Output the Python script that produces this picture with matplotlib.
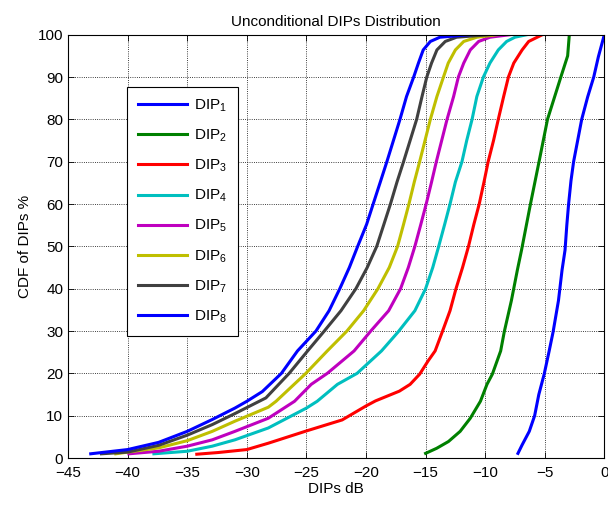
import matplotlib
matplotlib.use("Agg")
import matplotlib.pyplot as plt

plt.rcParams['font.family'] = ['Liberation Sans', 'DejaVu Sans']
plt.rcParams['mathtext.fontset'] = 'custom'
plt.rcParams['mathtext.rm'] = 'Liberation Sans'
plt.rcParams['mathtext.it'] = 'Liberation Sans'

# CDF curves: x in dB, y in %
dip1_x = [-7.25, -6.9, -6.3, -5.85, -5.5, -5.05, -4.63, -4.3, -3.85, -3.55, -3.3, -3.15, -3.0,
          -2.8, -2.58, -2.24, -1.9, -1.4, -0.89, -0.5, 0.0]
dip1_y = [1.1, 3.1, 6.3, 10, 15, 19.8, 25.3, 29.8, 37.2, 44.4, 49.1, 55, 60,
          65.5, 70, 75, 80, 85.3, 90, 94.8, 100]

dip2_x = [-15.0, -14.07, -13.08, -12.1, -11.25, -10.4, -9.85, -9.4, -8.7, -8.4, -7.8, -7.3,
          -6.95, -6.2, -5.48, -4.77, -3.65, -3.08, -2.94]
dip2_y = [1.1, 2.3, 3.9, 6.3, 9.4, 13.4, 17.4, 19.8, 25.3, 29.8, 37.2, 44.4,
          49.1, 60, 70, 80, 90, 95, 100]

dip3_x = [-34.2, -32.4, -30, -28.2, -25, -22, -20, -19.2, -17.2, -16.3, -15.5, -14.8, -14.2,
          -13.6, -12.95, -12.45, -11.9, -11.4, -10.95, -10.5, -10.1, -9.75, -9.3, -8.9,
          -8.45, -8.05, -7.6, -6.9, -6.35, -5.2]
dip3_y = [0.9, 1.3, 2.0, 3.5, 6.4, 9, 12.3, 13.5, 15.8, 17.4, 19.8, 22.9, 25.3,
          29.8, 34.8, 40, 45, 50, 55.2, 60, 65.2, 70, 75, 80,
          85.4, 90, 93.3, 96.4, 98.4, 100]

dip4_x = [-37.8, -35, -32.9, -31, -28.2, -25, -24.1, -22.4, -20.75, -18.7, -17.3, -15.9, -15.0,
          -14.4, -13.9, -13.4, -12.95, -12.5, -11.95, -11.55, -11.1, -10.7, -10.15, -9.6,
          -8.9, -8.2, -7.5, -6.5]
dip4_y = [1.0, 1.6, 2.8, 4.3, 7.1, 11.8, 13.4, 17.4, 20, 25.3, 29.8, 34.8, 40,
          45, 50, 55.2, 60, 65.2, 70, 75, 80, 85.4, 90, 93.3,
          96.4, 98.4, 99.4, 100]

dip5_x = [-39.9, -37.4, -35, -32.9, -31, -28.2, -26.0, -24.6, -23.25, -21.0, -19.6, -18.1,
          -17.1, -16.45, -15.9, -15.4, -14.95, -14.5, -14.1, -13.65, -13.2, -12.65, -12.25,
          -11.8, -11.25, -10.55, -9.6, -7.9]
dip5_y = [1.0, 1.6, 2.8, 4.3, 6.3, 9.4, 13.4, 17.4, 20, 25.3, 30, 34.8,
          40, 45, 50, 55.2, 60, 65.2, 70, 75, 80, 85.4, 90,
          93.3, 96.4, 98.4, 99.4, 100]

dip6_x = [-41.0, -37.4, -35, -32.9, -31, -28.2, -27.55, -25.05, -23.25, -21.6, -20.2, -19.0,
          -18.05, -17.35, -16.85, -16.4, -15.95, -15.5, -15.05, -14.6, -14.05, -13.5, -13.1,
          -12.5, -11.8, -10.7, -9.0]
dip6_y = [1.0, 2.4, 4.1, 6.3, 8.7, 12.0, 13.4, 20, 25.3, 30, 34.8, 40,
          45, 50, 55.2, 60, 65.2, 70, 75, 80, 85.4, 90, 93.3,
          96.4, 98.4, 99.4, 100]

dip7_x = [-42.2, -40, -37.4, -35, -32.9, -31, -28.4, -26.45, -24.9, -23.5, -22.1, -20.85,
          -19.9, -19.1, -18.5, -17.95, -17.4, -16.85, -16.3, -15.75, -15.3, -14.9, -14.5,
          -14.05, -13.35, -12.4, -9.6]
dip7_y = [1.0, 1.4, 3.0, 5.4, 7.9, 10.5, 14.2, 20, 25.3, 30, 34.8, 40,
          45, 50, 55.2, 60, 65.2, 70, 75, 80, 85.4, 90, 93.3,
          96.4, 98.4, 99.4, 100]

dip8_x = [-43.1, -40, -37.4, -35, -32.9, -31, -30, -28.7, -27.1, -25.75, -24.2, -23.1, -22.2,
          -21.4, -20.7, -19.95, -19.4, -18.8, -18.25, -17.7, -17.15, -16.6, -16.0, -15.6,
          -15.2, -14.6, -13.8, -11.25]
dip8_y = [1.0, 2.0, 3.7, 6.3, 9.1, 11.8, 13.4, 15.7, 20, 25.3, 30, 34.8, 40,
          45, 50, 55.2, 60, 65.2, 70, 75, 80, 85.4, 90, 93.3,
          96.4, 98.4, 99.4, 100]

curves = [(dip1_x, dip1_y), (dip2_x, dip2_y), (dip3_x, dip3_y), (dip4_x, dip4_y),
          (dip5_x, dip5_y), (dip6_x, dip6_y), (dip7_x, dip7_y), (dip8_x, dip8_y)]
colors = [(0, 0, 1), (0, 0.5, 0), (1, 0, 0), (0, 0.75, 0.75),
          (0.75, 0, 0.75), (0.75, 0.75, 0), (0.25, 0.25, 0.25), (0, 0, 1)]
labels = [r'DIP$_{%d}$' % (i + 1) for i in range(8)]

fig = plt.figure(figsize=(6.08, 5.07), dpi=100)
ax = fig.add_axes([0.112, 0.0966, 0.882, 0.835])

for (x, y), c, lab in zip(curves, colors, labels):
    ax.plot(x, y, color=c, lw=2.2, label=lab)

ax.set_xlim(-45, 0)
ax.set_ylim(0, 100)
ax.set_xticks(range(-45, 1, 5))
ax.set_yticks(range(0, 101, 10))
ax.grid(True, linestyle=':', color='k', lw=0.6)
ax.tick_params(direction='in', top=True, right=True, labelsize=11, length=4, width=0.6)
ax.tick_params(axis='x', pad=6)
for s in ax.spines.values():
    s.set_linewidth(0.8)

ax.set_title('Unconditional DIPs Distribution', fontsize=11, pad=6)
ax.set_xlabel('DIPs dB', fontsize=11, labelpad=1)
ax.set_ylabel('CDF of DIPs %', fontsize=11, labelpad=4)

leg = ax.legend(loc='upper left', bbox_to_anchor=(0.11, 0.877), fontsize=11,
                fancybox=False, edgecolor='k', framealpha=1, handlelength=3.2,
                labelspacing=0.9, borderpad=0.7, handletextpad=0.5, borderaxespad=0)
leg.get_frame().set_linewidth(0.8)

fig.savefig('out.png', dpi=100)
